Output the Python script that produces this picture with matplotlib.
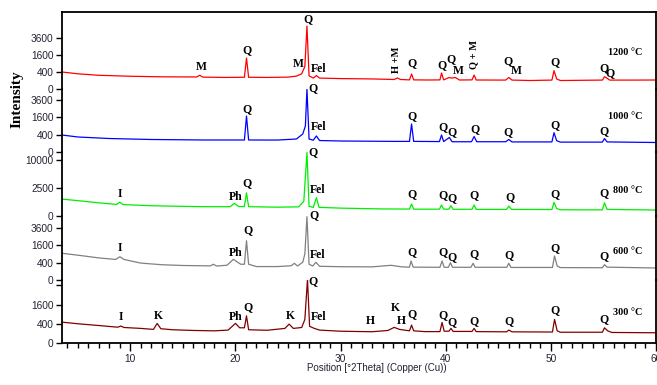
import numpy as np
import matplotlib.pyplot as plt

# XRD patterns of the fired samples, 2theta (deg) vs counts
tt_1200 = [3.5, 5, 7, 10, 13, 16.3, 16.6, 16.9, 19, 20.85, 21.05, 21.25, 23, 25, 25.8, 26.3, 26.6,
           26.8, 27.0, 27.4, 27.7, 28.0, 30, 33, 35.1, 35.4, 35.7, 36.55, 36.75, 36.95, 38.5, 39.45,
           39.6, 39.8, 40.3, 40.6, 40.9, 41.3, 42.5, 42.7, 42.9, 45.7, 46.0, 46.3, 48, 50.1, 50.3,
           50.55, 50.9, 54.9, 55.1, 55.35, 55.6, 58, 60]
cps_1200 = [400, 320, 260, 225, 205, 200, 260, 195, 185, 190, 1330, 190, 185, 195, 230, 320, 700,
            5490, 240, 165, 250, 165, 150, 140, 125, 170, 125, 115, 310, 115, 112, 115,
            355, 115, 180, 165, 185, 112, 115, 270, 112, 110, 185, 110, 100, 110, 465,
            140, 100, 110, 210, 160, 110, 110, 112]

tt_1000 = [3.5, 5, 8, 12, 17, 20.85, 21.05, 21.25, 24, 25.8, 26.4, 26.65, 26.8, 27.0, 27.4, 27.7,
           28.0, 30, 35, 36.55, 36.75, 36.95, 39.4, 39.6, 39.8, 40.35, 40.6, 42.45, 42.7, 42.95,
           45.7, 46.0, 46.3, 50.1, 50.3, 50.55, 50.9, 54.9, 55.1, 55.35, 60]
cps_1000 = [384, 300, 242, 208, 192, 192, 1724, 192, 190, 225, 430, 900, 5270, 225, 185, 341,
            175, 161, 150, 150, 1043, 150, 145, 384, 145, 280, 140, 140, 320, 140,
            140, 208, 135, 135, 497, 170, 130, 130, 242, 135, 120]

tt_800 = [3.5, 5, 7, 8.7, 9.0, 9.3, 12, 15, 17, 19.5, 19.9, 20.3, 20.85, 21.05, 21.25, 24, 26.0,
          26.5, 26.8, 27.0, 27.4, 27.7, 27.95, 30, 34, 36.55, 36.75, 36.95, 39.4, 39.6, 39.8, 40.3,
          40.5, 40.7, 42.5, 42.7, 42.9, 45.8, 46.0, 46.25, 50.1, 50.3, 50.55, 50.9, 54.9, 55.1,
          55.35, 60]
cps_800 = [920, 760, 560, 430, 620, 420, 340, 300, 280, 280, 514, 290, 290, 1730, 280, 250, 270,
           700, 13000, 300, 240, 1070, 240, 200, 160, 155, 460, 150, 150, 390, 150, 150,
           340, 145, 145, 390, 140, 140, 320, 140, 135, 600, 180, 125, 120, 565,
           140, 115]

tt_600 = [3.5, 5, 7, 8.6, 9.0, 9.4, 11, 13, 15, 17.6, 17.9, 18.2, 19.2, 19.8, 20.2, 20.5, 20.85,
          21.05, 21.25, 22, 24, 25.3, 25.6, 25.9, 26.4, 26.6, 26.8, 27.0, 27.35, 27.65, 28.0, 30,
          33, 34.8, 35.8, 36.55, 36.7, 36.9, 39.45, 39.65, 39.85, 40.25, 40.45, 40.65, 42.4, 42.6,
          42.8, 45.8, 46.0, 46.2, 50.15, 50.35, 50.6, 50.9, 54.9, 55.1, 55.35, 60]
cps_600 = [950, 820, 650, 560, 720, 560, 380, 310, 280, 265, 330, 260, 290, 570, 420, 330, 330,
           2055, 330, 240, 240, 270, 370, 260, 420, 900, 5333, 330, 260, 417, 250, 235,
           230, 287, 230, 220, 480, 220, 215, 480, 215, 215, 398, 215, 215, 371,
           215, 215, 371, 210, 210, 766, 260, 205, 200, 311, 220, 192]

tt_300 = [3.5, 5, 7, 8.8, 9.1, 9.4, 11, 12.2, 12.55, 12.9, 14, 16, 18, 19.3, 20.0, 20.4, 20.85,
          21.05, 21.25, 23, 24.7, 25.1, 25.5, 26.3, 26.6, 26.85, 27.05, 27.5, 28, 30, 33, 34.5,
          35.1, 35.6, 36.55, 36.75, 36.95, 38, 39.45, 39.65, 39.85, 40.3, 40.5, 40.7, 42.5, 42.7,
          42.9, 45.8, 46.0, 46.3, 50.15, 50.35, 50.6, 50.9, 54.9, 55.1, 55.4, 55.8, 60]
cps_300 = [470, 400, 330, 270, 310, 260, 230, 200, 415, 220, 190, 170, 160, 180, 415, 250, 250,
           797, 190, 175, 230, 386, 230, 260, 600, 4380, 300, 231, 180, 150, 137, 170,
           264, 200, 160, 347, 160, 140, 140, 458, 150, 150, 231, 145, 145, 231,
           140, 135, 181, 135, 130, 601, 160, 125, 125, 250, 160, 120, 113]

# phase labels: (text, 2theta, counts)
lab_1200 = [("M", 16.75, 670), ("Q", 21.05, 2105), ("M", 26.0, 865), ("Q", 26.86, 6782),
            ("Fel", 27.9, 554), ("Q", 36.8, 936), ("Q", 39.65, 797), ("Q", 40.5, 1246),
            ("M", 41.2, 448), ("Q", 45.9, 1085), ("M", 46.7, 448), ("Q", 50.4, 1009),
            ("Q", 55.1, 610), ("Q", 55.65, 354)]
lab_1200_rot = [("H +M", 35.35, 1164), ("Q + M", 42.7, 1600)]
lab_1000 = [("Q", 21.05, 2460), ("Q", 27.4, 5449), ("Fel", 27.9, 831), ("Q", 36.8, 1724),
            ("Q", 39.7, 831), ("Q", 40.6, 532), ("Q", 42.8, 704), ("Q", 45.9, 532),
            ("Q", 50.4, 970), ("Q", 55.1, 587)]
lab_800 = [("I", 9.05, 1543), ("Ph", 20.0, 1151), ("Q", 21.05, 3473), ("Q", 27.4, 13061),
           ("Fel", 27.85, 2156), ("Q", 36.8, 1543), ("Q", 39.7, 1366), ("Q", 40.6, 1033),
           ("Q", 42.7, 1406), ("Q", 46.1, 1188), ("Q", 50.4, 1543), ("Q", 55.1, 1643)]
lab_600 = [("I", 9.05, 1388), ("Ph", 20.0, 992), ("Q", 21.15, 3285), ("Q", 27.45, 5568),
           ("Fel", 27.85, 812), ("Q", 36.8, 1043), ("Q", 39.7, 1043), ("Q", 40.55, 722),
           ("Q", 42.7, 899), ("Q", 46.0, 852), ("Q", 50.4, 1388), ("Q", 55.1, 766)]
lab_300 = [("I", 9.1, 740), ("K", 12.7, 797), ("Ph", 20.05, 740), ("Q", 21.2, 1409),
           ("K", 25.2, 780), ("Q", 27.4, 4150), ("Fel", 27.9, 740), ("H", 32.85, 532),
           ("K", 35.2, 1333), ("H", 35.8, 532), ("Q", 36.8, 899), ("Q", 39.75, 857),
           ("Q", 40.55, 472), ("Q", 42.7, 532), ("Q", 46.05, 532), ("Q", 50.4, 1165),
           ("Q", 55.1, 601)]

temps = ["1200 °C", "1000 °C", "800 °C", "600 °C", "300 °C"]
temp_y = [1794, 1630, 2041, 1043, 982]
colors = ["#ff0000", "#0000ff", "#00ee00", "#808080", "#800000"]

patterns = [(tt_1200, cps_1200, lab_1200), (tt_1000, cps_1000, lab_1000),
            (tt_800, cps_800, lab_800), (tt_600, cps_600, lab_600), (tt_300, cps_300, lab_300)]
yticks = [[0, 400, 1600, 3600], [0, 400, 1600, 3600], [0, 2500, 10000],
          [0, 400, 1600, 3600], [0, 400, 1600, 3600]]
yticklabels = [["0", "400", "1600", "3600"], ["0", "400", "1600", "3600"], ["0", "2500", "10000"],
               ["0", "400", "1600", "3600"], ["0", "400", "1600", ""]]
ytop = [8206, 5280, 13200, 5449, 4290]

# panel edges in pixels (top, bottom)
edges = [(12, 89), (89, 152), (152, 216), (216, 280), (280, 343)]

W, H = 657, 385
fig = plt.figure(figsize=(W / 100, H / 100), dpi=100)
serif = ["Liberation Serif", "DejaVu Serif"]
sans = ["Liberation Sans", "DejaVu Sans"]


def fwd(v):
    return np.sqrt(np.clip(v, 0, None))


def inv(v):
    return np.square(v)


axes = []
for i, (tt, cps, labs) in enumerate(patterns):
    top, bot = edges[i]
    ax = fig.add_axes([62 / W, 1 - bot / H, (656 - 62) / W, (bot - top) / H])
    ax.set_yscale('function', functions=(fwd, inv))
    ax.plot(tt, cps, color=colors[i], lw=0.9)
    ax.set_xlim(3.5, 60)
    ax.set_ylim(0, ytop[i])
    ax.patch.set_alpha(0)
    ax.set_yticks(yticks[i])
    ax.set_yticklabels(yticklabels[i], family=sans, fontsize=7.3, color="#222233")
    ax.yaxis.set_minor_locator(plt.NullLocator())
    ax.tick_params(axis='y', direction='out', length=4, width=1, pad=2)
    for s in ['left', 'right', 'top', 'bottom']:
        ax.spines[s].set_linewidth(1.3)
    ax.spines['top'].set_visible(i == 0)
    ax.spines['bottom'].set_visible(i == 4)
    if i < 4:
        ax.tick_params(axis='x', which='both', bottom=False, labelbottom=False)
    for txt, x, y in labs:
        ax.text(x, y, txt, ha='center', va='center', family=serif, fontweight='bold', fontsize=8.5)
    ax.text(58.7, temp_y[i], temps[i], ha='right', va='center', family=serif,
            fontweight='bold', fontsize=7.3)
    axes.append(ax)

for txt, x, y in lab_1200_rot:
    axes[0].text(x, y, txt, ha='center', va='center', rotation=90, family=serif,
                 fontweight='bold', fontsize=7.5)

bx = axes[-1]
bx.set_xticks([10, 20, 30, 40, 50, 60])
bx.set_xticks(np.arange(4, 61, 1), minor=True)
bx.set_xticklabels(["10", "20", "30", "40", "50", "60"], family=sans, fontsize=7.3, color="#222233")
bx.tick_params(axis='x', which='major', direction='out', length=6, width=1, pad=2)
bx.tick_params(axis='x', which='minor', direction='out', length=3.5, width=1)

fig.text(17 / W, 1 - 99 / H, "Intensity", rotation=90, ha='center', va='center',
         family=serif, fontweight='bold', fontsize=11)
fig.text(377 / W, 1 - 368 / H, "Position [°2Theta] (Copper (Cu))", ha='center', va='center',
         family=sans, fontsize=7, color="#222233")

fig.savefig("out.png", dpi=100)
